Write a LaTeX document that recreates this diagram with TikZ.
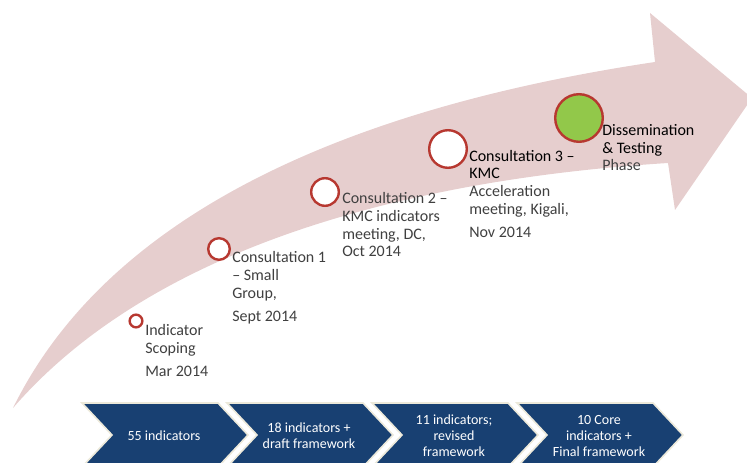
\documentclass[tikz,border=0pt]{standalone}
\usepackage{fontspec}
\setmainfont{Carlito}
\definecolor{arrowpink}{RGB}{230,206,206}
\definecolor{ringred}{RGB}{183,56,48}
\definecolor{phasegreen}{RGB}{146,200,74}
\definecolor{stepblue}{RGB}{24,64,114}
\definecolor{stepedge}{RGB}{236,233,218}
\definecolor{labelgrey}{RGB}{64,64,64}

\begin{document}
\begin{tikzpicture}[x=0.75pt,y=-0.75pt,
  ring/.style={circle,draw=ringred,line width=1.8pt,fill=white,inner sep=0pt},
  milestone/.style={anchor=base west,align=left,inner sep=0pt,text=labelgrey,font=\fontsize{12}{13.3}\selectfont},
  chevron/.style={fill=stepblue,draw=stepedge,line width=1.2pt},
  chevtext/.style={align=center,text=white,font=\fontsize{10.5}{12}\selectfont}]
  \useasboundingbox (0,0) rectangle (747,463);
  \clip (0,0) rectangle (747,463);
  % curved arrow
  \fill[arrowpink] (13,408) .. controls (120,190) and (400,100) .. (655,62)
    -- (650,13) -- (752,98) -- (675,210) -- (668,163)
    .. controls (400,180) and (150,250) .. (13,408) -- cycle;
  % phases
  \foreach \x/\txt [count=\i] in {82/{55 indicators},227/{18 indicators +\\draft framework},372/{11 indicators;\\revised\\framework},517/{10 Core\\indicators +\\Final framework}}{
    \draw[chevron] (\x,403) -- ++(136,0) -- ++(30,32) -- ++(-30,32) -- ++(-136,0) -- ++(30,-32) -- cycle;
    \node[chevtext] (s\i) at (\x+82,436) {\txt};
  }
  % milestones (placed at the baseline of their last line)
  \node[ring,minimum size=9.5pt] (c1) at (136,321) {};
  \node[ring,minimum size=16.2pt] (c2) at (219,249) {};
  \node[ring,minimum size=20.7pt] (c3) at (325,192) {};
  \node[ring,minimum size=28.2pt] (c4) at (448,149) {};
  \node[ring,minimum size=35.7pt,fill=phasegreen] (c5) at (579,118) {};
  \node[milestone] (t1) at (145,377) {Indicator\\Scoping\\[4.5pt]Mar 2014};
  \node[milestone] (t2) at (232,322) {Consultation 1\\– Small\\Group,\\[4.5pt]Sept 2014};
  \node[milestone] (t3) at (342,257) {Consultation 2 –\\KMC indicators\\meeting, DC,\\Oct 2014};
  \node[milestone] (t4) at (469,238) {\textcolor{black}{Consultation 3 –}\\\textcolor{black}{KMC}\\Acceleration\\meeting, Kigali,\\[4.5pt]Nov 2014};
  \node[milestone] (t5) at (602,171) {\textcolor{black}{Dissemination}\\\textcolor{black}{\& Testing}\\Phase};
\end{tikzpicture}
\end{document}
